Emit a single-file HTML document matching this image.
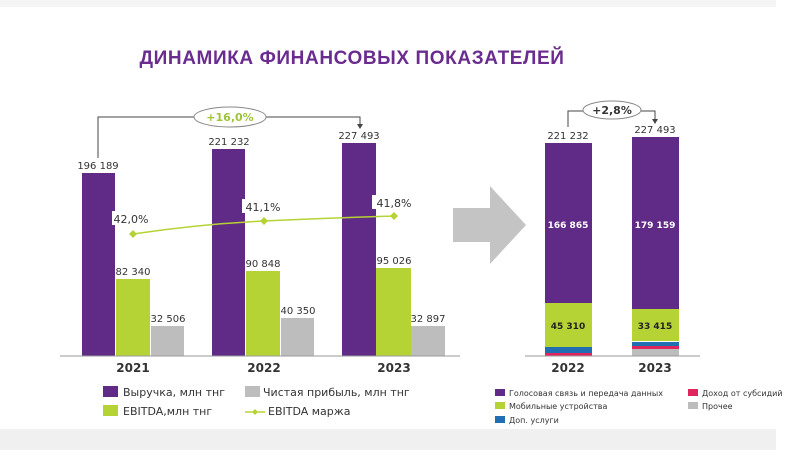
<!DOCTYPE html>
<html><head><meta charset="utf-8"><style>
body{margin:0;width:800px;height:450px;background:#fff;overflow:hidden;font-family:"Liberation Sans","DejaVu Sans",sans-serif}
</style></head><body>
<svg width="800" height="450" xmlns="http://www.w3.org/2000/svg" font-family="'DejaVu Sans','Liberation Sans',sans-serif">
<rect x="0" y="0" width="800" height="450" fill="#fff"/>
<rect x="0" y="0" width="776" height="7" fill="#f5f5f5"/>
<rect x="0" y="429" width="776" height="21" fill="#f0f0f0"/>
<text x="352" y="64" text-anchor="middle" font-family="'Liberation Sans',sans-serif" font-weight="bold" font-size="19" letter-spacing="0.6" fill="#6a2c8e">ДИНАМИКА ФИНАНСОВЫХ ПОКАЗАТЕЛЕЙ</text>
<g>
<rect x="82" y="173" width="33" height="183" fill="#5f2b86"/>
<rect x="116" y="279" width="34" height="77" fill="#b5d334"/>
<rect x="151" y="326" width="33" height="30" fill="#bdbdbd"/>
<rect x="212" y="149" width="33" height="207" fill="#5f2b86"/>
<rect x="246" y="271" width="34" height="85" fill="#b5d334"/>
<rect x="281" y="318" width="33" height="38" fill="#bdbdbd"/>
<rect x="342" y="143" width="34" height="213" fill="#5f2b86"/>
<rect x="376" y="268" width="35" height="88" fill="#b5d334"/>
<rect x="411" y="326" width="34" height="30" fill="#bdbdbd"/>
<line x1="60" y1="356" x2="460" y2="356" stroke="#999" stroke-width="1"/>
</g>
<g font-size="10" fill="#333" text-anchor="middle">
<text x="98" y="169">196 189</text>
<text x="133" y="275">82 340</text>
<text x="168" y="322">32 506</text>
<text x="229" y="145">221 232</text>
<text x="263" y="267">90 848</text>
<text x="298" y="314">40 350</text>
<text x="359" y="139">227 493</text>
<text x="394" y="264">95 026</text>
<text x="428" y="322">32 897</text>
</g>
<g font-size="12" font-weight="bold" fill="#333" text-anchor="middle">
<text x="133" y="372">2021</text><text x="264" y="372">2022</text><text x="394" y="372">2023</text>
</g>
<path d="M133 234 Q200 224 264 221 T394 216" fill="none" stroke="#b5d334" stroke-width="1.5"/>
<g fill="#b5d334"><path d="M133 230l4 4-4 4-4-4z"/><path d="M264 217l4 4-4 4-4-4z"/><path d="M394 212l4 4-4 4-4-4z"/></g>
<g font-size="11" fill="#333" text-anchor="middle">
<rect x="112" y="211" width="40" height="14" fill="#fff"/><text x="131" y="223">42,0%</text>
<rect x="242" y="199" width="40" height="14" fill="#fff"/><text x="263" y="211">41,1%</text>
<rect x="372" y="195" width="40" height="14" fill="#fff"/><text x="394" y="207">41,8%</text>
</g>
<path d="M98 158 V117 H360 V126" fill="none" stroke="#444" stroke-width="1"/>
<path d="M357 124 l3 5 3-5z" fill="#444"/>
<ellipse cx="230" cy="117" rx="36" ry="10" fill="#fff" stroke="#888"/>
<text x="230" y="121" text-anchor="middle" font-size="11" font-weight="bold" fill="#9fc43a">+16,0%</text>
<g font-size="11" fill="#333">
<rect x="103" y="386" width="15" height="11" fill="#5f2b86"/><text x="123" y="396">Выручка, млн тнг</text>
<rect x="245" y="386" width="15" height="11" fill="#bdbdbd"/><text x="263" y="396">Чистая прибыль, млн тнг</text>
<rect x="103" y="405" width="15" height="11" fill="#b5d334"/><text x="123" y="415">EBITDA,млн тнг</text>
<line x1="245" y1="412" x2="265" y2="412" stroke="#b5d334" stroke-width="1.5"/><path d="M255 409l3 3-3 3-3-3z" fill="#b5d334"/><text x="268" y="415">EBITDA маржа</text>
</g>
<path d="M453 208 H490 V186 L526 225 L490 264 V242 H453 Z" fill="#c4c4c4"/>
<rect x="545" y="143" width="47" height="160" fill="#5f2b86"/>
<rect x="545" y="303" width="47" height="44" fill="#b5d334"/>
<rect x="545" y="347" width="47" height="6" fill="#1f6fb2"/>
<rect x="545" y="353" width="47" height="3" fill="#e0245e"/>
<rect x="632" y="137" width="47" height="172" fill="#5f2b86"/>
<rect x="632" y="309" width="47" height="32" fill="#b5d334"/>
<rect x="632" y="342" width="47" height="4" fill="#1f6fb2"/>
<rect x="632" y="346" width="47" height="3" fill="#e0245e"/>
<rect x="632" y="349" width="47" height="7" fill="#bdbdbd"/>
<line x1="525" y1="356" x2="700" y2="356" stroke="#999"/>
<g font-size="9" font-weight="bold" text-anchor="middle">
<text x="568" y="228" fill="#fff">166 865</text><text x="655" y="228" fill="#fff">179 159</text>
<text x="568" y="329" fill="#222">45 310</text><text x="655" y="329" fill="#222">33 415</text>
</g>
<g font-size="10" fill="#333" text-anchor="middle"><text x="568" y="139">221 232</text><text x="655" y="133">227 493</text></g>
<g font-size="12" font-weight="bold" fill="#333" text-anchor="middle"><text x="568" y="372">2022</text><text x="655" y="372">2023</text></g>
<path d="M568 127 V111 H655 V121" fill="none" stroke="#444"/>
<path d="M652 119 l3 5 3-5z" fill="#444"/>
<ellipse cx="612" cy="110" rx="29" ry="9" fill="#fff" stroke="#888"/>
<text x="612" y="114" text-anchor="middle" font-size="11" font-weight="bold" fill="#333">+2,8%</text>
<g font-size="8" fill="#333">
<rect x="495" y="389" width="10" height="7" fill="#5f2b86"/><text x="509" y="396">Голосовая связь и передача данных</text>
<rect x="688" y="389" width="10" height="7" fill="#e0245e"/><text x="702" y="396">Доход от субсидий</text>
<rect x="495" y="402" width="10" height="7" fill="#b5d334"/><text x="509" y="409">Мобильные устройства</text>
<rect x="688" y="402" width="10" height="7" fill="#bdbdbd"/><text x="702" y="409">Прочее</text>
<rect x="495" y="416" width="10" height="7" fill="#1f6fb2"/><text x="509" y="423">Доп. услуги</text>
</g>
</svg>
</body></html>
